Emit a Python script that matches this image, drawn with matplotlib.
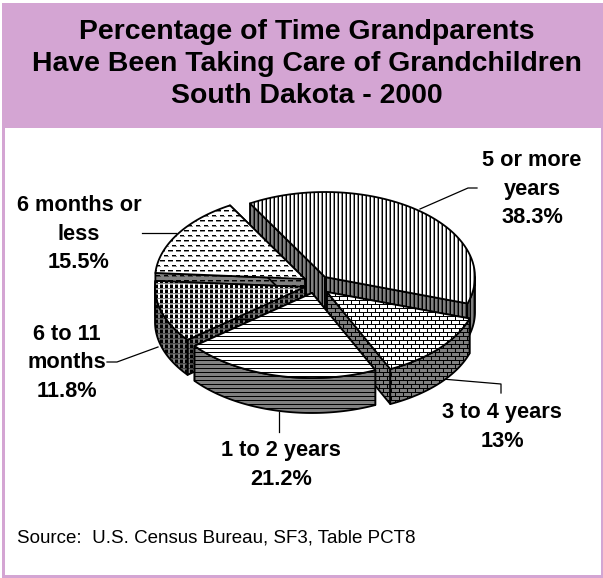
import matplotlib
matplotlib.use('Agg')
import matplotlib.pyplot as plt
import numpy as np
from matplotlib.patches import Polygon, Rectangle

plt.rcParams['font.family'] = ['Liberation Sans', 'DejaVu Sans']

title_lines = ['Percentage of Time Grandparents',
               'Have Been Taking Care of Grandchildren',
               'South Dakota - 2000']
categories = ['5 or more years', '3 to 4 years', '1 to 2 years', '6 to 11 months', '6 months or less']
values = [38.3, 13, 21.2, 11.8, 15.5]
source = 'Source:  U.S. Census Bureau, SF3, Table PCT8'

W, H = 603, 578
PURPLE = '#D4A5D3'
GRAY = 0.5
start_angle = 330
rx, ry, depth = 150, 85, 35

# where each exploded slice has its tip, in the order of values
tips = [(325, 277), (327, 292), (312, 293), (305, 287), (305, 279)]
draw_order = [0, 4, 3, 1, 2]

vertical = ['.g#.']
horizontal = ['#', '.', '.', '.']
brick = ['########',
         '...#....',
         '...#....',
         '...#....',
         '########',
         '.......#',
         '.......#',
         '.......#']
dashes = ['#####...',
          'ggggg...',
          '........',
          '........',
          '........',
          '....####',
          'g...gggg',
          '........',
          '........',
          '........']
squares = ['###..',
           '###..',
           '###..',
           'ggggg',
           'ggg..']
patterns = [vertical, brick, horizontal, squares, dashes]


def tile(rows, back):
    ink = {'#': 0.0, 'g': 0.55 * back, '.': back}
    cell = np.array([[ink[c] for c in r] for r in rows])
    ny = H // cell.shape[0] + 1
    nx = W // cell.shape[1] + 1
    return np.tile(cell, (ny, nx))[:H, :W]


def fill(ax, pts, rows, back, z):
    poly = Polygon(pts, closed=True, fc='none', ec='black', lw=1.3, zorder=z + 0.5, joinstyle='round')
    ax.add_patch(poly)
    im = ax.imshow(tile(rows, back), cmap='gray', vmin=0, vmax=1, extent=(0, W, H, 0),
                   interpolation='nearest', aspect='auto', zorder=z)
    im.set_clip_path(Polygon(pts, closed=True, transform=ax.transData))


def arc(tip, a, b):
    t = np.radians(np.linspace(a, b, 60))
    return np.column_stack([tip[0] + rx * np.sin(t), tip[1] - ry * np.cos(t)])


fig = plt.figure(figsize=(W / 100, H / 100), dpi=100)
ax = fig.add_axes([0, 0, 1, 1])
ax.set_xlim(0, W)
ax.set_ylim(H, 0)
ax.axis('off')

ax.add_patch(Rectangle((2, 3), W - 2, H - 3, fc=PURPLE, ec='none', zorder=1))
ax.add_patch(Rectangle((5, 128), W - 7, H - 131, fc='white', ec='none', zorder=2))

for i, line in enumerate(title_lines):
    ax.text(307, 32 + 32 * i, line, ha='center', va='center', fontsize=20.4, fontweight='bold', zorder=3)

# angles come from the values, clockwise from start_angle
edges = start_angle + np.cumsum([0] + values) / sum(values) * 360
z = 10
for k in draw_order:
    a, b = edges[k], edges[k + 1]
    tip = np.array(tips[k], dtype=float)
    low = tip + [0, depth]
    rows = patterns[k]
    top = arc(tip, a, b)
    # cut faces
    for corner in (top[0], top[-1]):
        fill(ax, [tip, corner, corner + [0, depth], low], rows, GRAY, z)
        z += 1
    # outer rim, only the part facing the viewer
    for shift in (0, 360):
        lo, hi = max(a, 90 + shift), min(b, 270 + shift)
        if hi > lo:
            rim = arc(tip, lo, hi)
            fill(ax, np.vstack([rim, (rim + [0, depth])[::-1]]), rows, GRAY, z)
            z += 1
    fill(ax, np.vstack([tip, top]), rows, 1.0, z)
    z += 1

leaders = [([420, 468, 477], [209, 188, 188]),
           ([442, 501, 501], [379, 384, 393]),
           ([279, 279], [412, 432]),
           ([158, 117, 107], [347, 362, 362]),
           ([142, 176], [233, 233])]
for lx, ly in leaders:
    ax.plot(lx, ly, color='black', lw=0.9, zorder=5)

labels = ['5 or more\nyears\n38.3%', '3 to 4 years\n13%', '1 to 2 years\n21.2%',
          '6 to 11\nmonths\n11.8%', '6 months or\nless\n15.5%']
label_pos = [(532, 189), (502, 427), (281, 465), (67, 363), (79, 234)]
for text, (x, y) in zip(labels, label_pos):
    ax.text(x, y, text, ha='center', va='center', fontsize=15.7, fontweight='bold',
            linespacing=1.45, zorder=300)

ax.text(17, 538, source, ha='left', va='center', fontsize=13.5, zorder=300)

fig.savefig('out.png', dpi=100)
